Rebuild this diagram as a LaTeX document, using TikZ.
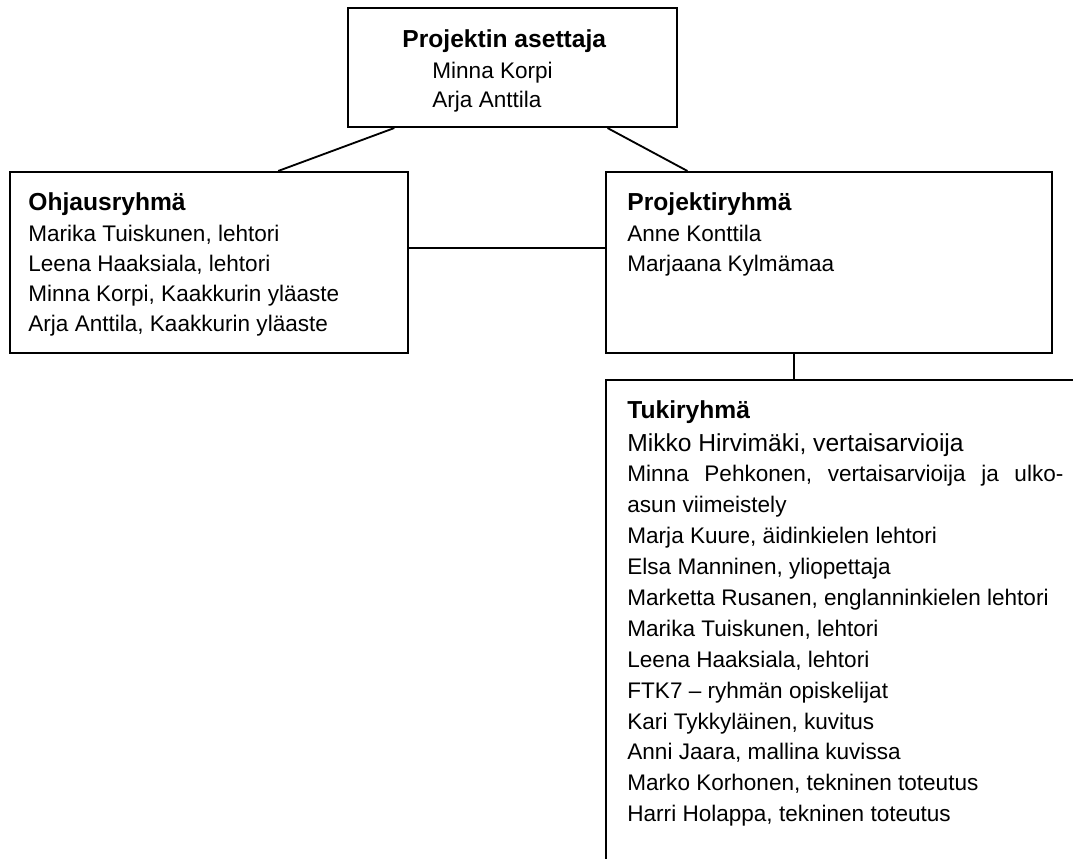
\documentclass[tikz,border=0pt]{standalone}
\usepackage{fontspec}
\setmainfont{Liberation Sans}
\usetikzlibrary{fit,calc}
\newcommand\linesblock[2]{\vtop{\baselineskip=#1\relax #2}}
\begin{document}
\begin{tikzpicture}[x=0.4878pt,y=-0.4878pt,
  boxline/.style={line width=1pt},
  frame/.style={draw, line width=1pt, inner sep=0pt},
  openframe/.style={inner sep=0pt},
  conn/.style={line width=0.9pt},
  head/.style={anchor=base west, inner sep=0pt, font=\fontsize{12}{14}\selectfont\bfseries},
  body/.style={anchor=base west, inner sep=0pt, font=\fontsize{11}{14}\selectfont}]
\useasboundingbox (0,0) rectangle (1073,859);
\fill[white] (0,0) rectangle (1073,859);

% corner coordinates
\coordinate (a1) at (348,8);   \coordinate (a2) at (677,127);
\coordinate (b1) at (10,172);  \coordinate (b2) at (408,353);
\coordinate (c1) at (606,172); \coordinate (c2) at (1052,353);
\coordinate (d1) at (606,380); \coordinate (d2) at (1073,859);

\node[frame, fit=(a1)(a2)] (asettaja) {};
\node[frame, fit=(b1)(b2)] (ohjaus) {};
\node[frame, fit=(c1)(c2)] (projekti) {};
\node[openframe, fit=(d1)(d2)] (tuki) {};
\draw[boxline] (tuki.south west) -- (tuki.north west) -- (tuki.north east);

% connectors
\draw[conn] ($(asettaja.south west)!0.143!(asettaja.south east)$) -- ($(ohjaus.north west)!0.673!(ohjaus.north east)$);
\draw[conn] ($(asettaja.south west)!0.787!(asettaja.south east)$) -- ($(projekti.north west)!0.184!(projekti.north east)$);
\coordinate (hl) at ($(ohjaus.north east)!0.42!(ohjaus.south east)$);
\draw[conn] (hl) -- (hl -| projekti.west);
\coordinate (vl) at ($(projekti.south west)!0.4215!(projekti.south east)$);
\draw[conn] (vl) -- (vl |- tuki.north);

% texts
\node[head] (asettajaH) at (402,47) {Projektin asettaja};
\node[body] (asettajaB) at (432,78) {\linesblock{14.63pt}{\hbox{Minna Korpi}\hbox{Arja Anttila}}};

\node[head] (ohjausH) at (28,210) {Ohjausryhmä};
\node[body] (ohjausB) at (28,241.7) {\linesblock{14.63pt}{%
  \hbox{Marika Tuiskunen, lehtori}%
  \hbox{Leena Haaksiala, lehtori}%
  \hbox{Minna Korpi, Kaakkurin yläaste}%
  \hbox{Arja Anttila, Kaakkurin yläaste}}};

\node[head] (projektiH) at (627,210) {Projektiryhmä};
\node[body] (projektiB) at (627,241.7) {\linesblock{14.63pt}{%
  \hbox{Anne Konttila}%
  \hbox{Marjaana Kylmämaa}}};

\node[head] (tukiH) at (627,418) {Tukiryhmä};
\node[body] (tukiB) at (627,451) {\linesblock{15.07pt}{%
  \hbox{\fontsize{12}{14}\selectfont Mikko Hirvimäki, vertaisarvioija}%
  \hbox to 212.7pt{Minna\hfill Pehkonen,\hfill vertaisarvioija\hfill ja\hfill ulko-}%
  \hbox{asun viimeistely}%
  \hbox{Marja Kuure, äidinkielen lehtori}%
  \hbox{Elsa Manninen, yliopettaja}%
  \hbox{Marketta Rusanen, englanninkielen lehtori}%
  \hbox{Marika Tuiskunen, lehtori}%
  \hbox{Leena Haaksiala, lehtori}%
  \hbox{FTK7 – ryhmän opiskelijat}%
  \hbox{Kari Tykkyläinen, kuvitus}%
  \hbox{Anni Jaara, mallina kuvissa}%
  \hbox{Marko Korhonen, tekninen toteutus}%
  \hbox{Harri Holappa, tekninen toteutus}}};
\end{tikzpicture}
\end{document}
